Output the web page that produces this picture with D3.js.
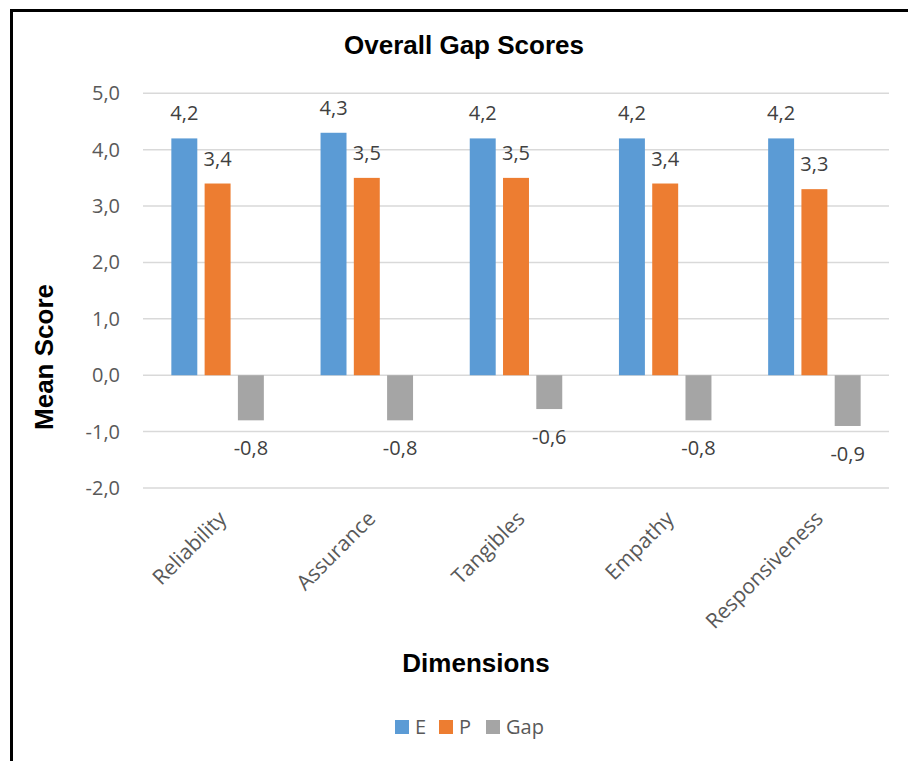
<!DOCTYPE html>
<meta charset="utf-8" />
<script src="https://d3js.org/d3.v7.min.js"></script>
<style>
  body { margin: 0; background: #fff; }
  svg { display: block; }
</style>
<body>
<div id="chart"></div>
</body>
<script>
  // chart data
  const dimensions = ["Reliability", "Assurance", "Tangibles", "Empathy", "Responsiveness"];
  const seriesNames = ["E", "P", "Gap"];
  const eScores = [4.2, 4.3, 4.2, 4.2, 4.2];
  const pScores = [3.4, 3.5, 3.5, 3.4, 3.3];
  const gapScores = [-0.8, -0.8, -0.6, -0.8, -0.9];
  const yTicks = [-2, -1, 0, 1, 2, 3, 4, 5];

  const colors = {E: "#5b9bd5", P: "#ed7d31", Gap: "#a5a5a5"};
  const values = {E: eScores, P: pScores, Gap: gapScores};

  const W = 908, H = 761;
  const plot = {left: 143, right: 889, top: 93.3, bottom: 488};

  const svg = d3.select("#chart").append("svg")
      .attr("width", W)
      .attr("height", H);

  // outer frame (top and left edges only, as in the picture)
  svg.append("path")
    .attr("d", "M11.5,761 L11.5,10.5 L908,10.5")
    .attr("fill", "none")
    .attr("stroke", "#000")
    .attr("stroke-width", 3);

  const x0 = d3.scaleBand()
    .domain(dimensions)
    .range([plot.left, plot.right])
    .paddingInner(0.38)
    .paddingOuter(0.19);

  const x1 = d3.scaleBand()
    .domain(seriesNames)
    .range([0, x0.bandwidth()])
    .paddingInner(0.22);

  const y = d3.scaleLinear()
    .domain([-2, 5])
    .range([plot.bottom, plot.top]);

  const fmt = v => d3.format(".1f")(v).replace(".", ",").replace("−", "-");

  // gridlines
  svg.append("g")
    .selectAll("line")
    .data(yTicks)
    .join("line")
      .attr("x1", plot.left)
      .attr("x2", plot.right)
      .attr("y1", d => y(d))
      .attr("y2", d => y(d))
      .attr("stroke", "#d9d9d9")
      .attr("stroke-width", 1.5);

  // y tick labels
  svg.append("g")
    .selectAll("text")
    .data(yTicks)
    .join("text")
      .attr("x", 120)
      .attr("y", d => y(d))
      .attr("dy", "0.35em")
      .attr("text-anchor", "end")
      .style("font-family", "'Open Sans'")
      .style("font-size", "20px")
      .attr("fill", "#595959")
      .text(d => fmt(d));

  // bars
  const groups = svg.append("g")
    .selectAll("g")
    .data(dimensions)
    .join("g")
      .attr("transform", d => "translate(" + x0(d) + ",0)");

  const cells = groups.selectAll("g")
    .data((d, i) => seriesNames.map(s => ({s: s, v: values[s][i]})))
    .join("g");

  cells.append("rect")
    .attr("x", d => x1(d.s))
    .attr("width", x1.bandwidth())
    .attr("y", d => y(Math.max(0, d.v)))
    .attr("height", d => Math.abs(y(d.v) - y(0)))
    .attr("fill", d => colors[d.s]);

  // data labels
  cells.append("text")
    .attr("x", d => x1(d.s) + x1.bandwidth() / 2)
    .attr("y", d => d.v >= 0 ? y(d.v) - 18 : y(d.v) + 35)
    .attr("text-anchor", "middle")
    .style("font-family", "'Open Sans'")
    .style("font-size", "20px")
    .attr("fill", "#404040")
    .text(d => fmt(d.v));

  // category labels, rotated
  svg.append("g")
    .selectAll("text")
    .data(dimensions)
    .join("text")
      .attr("transform", d => "translate(" + (x0(d) + x0.bandwidth() / 2 + 10) + ",520) rotate(-45)")
      .attr("text-anchor", "end")
      .style("font-family", "'Open Sans'")
      .style("font-size", "21px")
      .attr("fill", "#595959")
      .text(d => d);

  // titles
  svg.append("text")
    .attr("x", 464)
    .attr("y", 54)
    .attr("text-anchor", "middle")
    .style("font-family", "'Liberation Sans', Arial")
    .style("font-weight", "bold")
    .style("font-size", "26px")
    .text("Overall Gap Scores");

  svg.append("text")
    .attr("transform", "translate(53,357) rotate(-90)")
    .attr("text-anchor", "middle")
    .style("font-family", "'Liberation Sans', Arial")
    .style("font-weight", "bold")
    .style("font-size", "26px")
    .text("Mean Score");

  svg.append("text")
    .attr("x", 476)
    .attr("y", 672)
    .attr("text-anchor", "middle")
    .style("font-family", "'Liberation Sans', Arial")
    .style("font-weight", "bold")
    .style("font-size", "26px")
    .text("Dimensions");

  // legend
  const legendX = [395, 439, 486];
  const legend = svg.append("g")
    .selectAll("g")
    .data(seriesNames)
    .join("g")
      .attr("transform", (d, i) => "translate(" + legendX[i] + ",720)");

  legend.append("rect")
    .attr("width", 14)
    .attr("height", 14)
    .attr("fill", d => colors[d]);

  legend.append("text")
    .attr("x", 20)
    .attr("y", 7)
    .attr("dy", "0.35em")
    .style("font-family", "'Open Sans'")
    .style("font-size", "20px")
    .attr("fill", "#595959")
    .text(d => d);
</script>
